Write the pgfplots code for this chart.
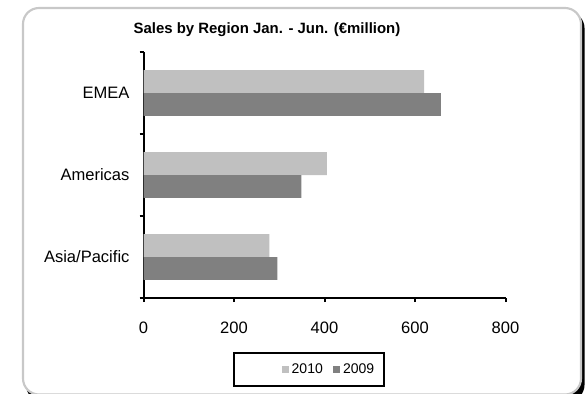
\documentclass[border=0pt]{standalone}
\usepackage{pgfplots}
\pgfplotsset{compat=1.18}
\usepackage{fontspec}
\setmainfont{Liberation Sans}
\definecolor{cA}{HTML}{C0C0C0}
\definecolor{cB}{HTML}{808080}
\definecolor{frame}{HTML}{C8C8C8}
\begin{document}
\begin{tikzpicture}[x=0.75pt,y=0.75pt]
\useasboundingbox (0,0) rectangle (585,393);
\begin{scope}
\clip (0,0) rectangle (585,393);
\fill[black, rounded corners=12pt] (26,-8) rectangle (584.5,381);
\draw[frame, line width=1.6pt, fill=white, rounded corners=12pt] (23,-1.5) rectangle (581,385);
\end{scope}
\begin{axis}[
  at={(107.625pt,71.25pt)}, anchor=south west,
  scale only axis, width=271.5pt, height=184.5pt,
  xbar, xmin=0, xmax=800, ymin=-0.5, ymax=2.5,
  axis lines*=left,
  axis line style={line width=1.5pt, black},
  xtick={0,200,400,600,800},
  ytick={-0.5,0.5,1.5,2.5}, yticklabels={,,,,},
  extra y ticks={0,1,2}, extra y tick labels={Asia/Pacific,Americas,EMEA},
  extra y tick style={major tick length=0pt, ytick style={draw=none}},
  tick align=outside, major tick length=3pt,
  tick style={line width=1.5pt, black},
  tick label style={font=\fontsize{12.4}{14}\selectfont},
  x tick label style={yshift=-11.5pt},
  y tick label style={xshift=-7pt},
  /pgf/number format/assume math mode=true,
  title={\textbf{Sales by Region Jan. - Jun. (€million)}},
  title style={font=\fontsize{11.2}{13}\selectfont, at={(axis description cs:0.341,1.058)}, anchor=center},
  legend columns=2,
  legend style={draw=none, fill=none, at={(axis description cs:0.5138,-0.2907)}, anchor=center,
    font=\fontsize{10.5}{12}\selectfont, inner sep=0pt,
    /tikz/every even column/.append style={column sep=6pt}},
  legend image code/.code={\fill[#1] (0pt,-2.6pt) rectangle (5.2pt,2.6pt);},
]
\addplot[fill=cA, draw=none, bar width=0.28, bar shift=0.14] coordinates {(278,0) (405,1) (620,2)};
\addlegendentry{2010}
\addplot[fill=cB, draw=none, bar width=0.28, bar shift=-0.14] coordinates {(296,0) (349,1) (657,2)};
\addlegendentry{2009}
\end{axis}
\draw[black, line width=1.5pt] (233.5,7) rectangle (384,40);
\end{tikzpicture}
\end{document}
